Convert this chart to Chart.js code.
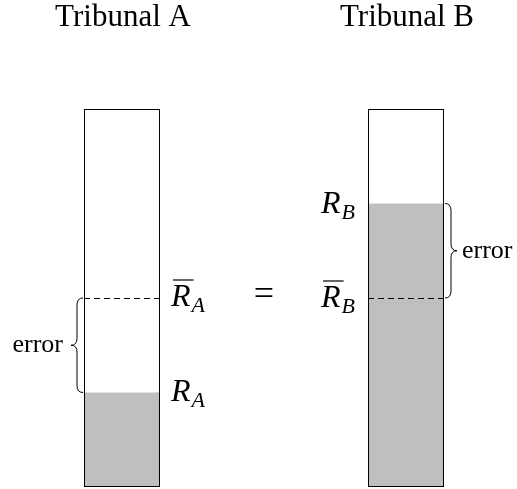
<!DOCTYPE html>
<html>
<head>
<meta charset="utf-8">
<script src="https://cdn.jsdelivr.net/npm/chart.js@4"></script>
<style>
  body { margin: 0; background: #fff; }
  #wrap { width: 517px; height: 489px; }
</style>
</head>
<body>
<div id="wrap"><canvas id="chart"></canvas></div>
<script>
// one slot per tribunal, the middle slot only holds the "=" sign
const categories = ['Tribunal A', '=', 'Tribunal B']
const tribunalLetters = ['A', null, 'B']
const observed = [0.25, null, 0.75]   // R
const expected = [0.5, null, 0.5]     // R bar
const capacity = [1, null, 1]

const serif = '"Liberation Serif", "DejaVu Serif", serif'

function drawBrace(ctx, x, y1, y2, dir, depth) {
  const h = (depth / 2) * dir
  const d = depth * dir
  const ym = (y1 + y2) / 2
  const r = 7
  ctx.beginPath()
  ctx.moveTo(x, y1)
  ctx.quadraticCurveTo(x + h, y1, x + h, y1 + r)
  ctx.lineTo(x + h, ym - r)
  ctx.quadraticCurveTo(x + h, ym, x + d, ym)
  ctx.quadraticCurveTo(x + h, ym, x + h, ym + r)
  ctx.lineTo(x + h, y2 - r)
  ctx.quadraticCurveTo(x + h, y2, x, y2)
  ctx.stroke()
}

// italic R with subscript, optional overline
function drawR(ctx, letter, x, baseline, align, bar) {
  ctx.font = 'italic 32px ' + serif
  const rw = ctx.measureText('R').width
  ctx.font = 'italic 22px ' + serif
  const sw = ctx.measureText(letter).width
  const total = rw + 1 + sw
  const left = align === 'left' ? x : x - total
  ctx.textAlign = 'left'
  ctx.textBaseline = 'alphabetic'
  ctx.font = 'italic 32px ' + serif
  ctx.fillText('R', left, baseline)
  ctx.font = 'italic 22px ' + serif
  ctx.fillText(letter, left + rw + 1, baseline + 6)
  if (bar) {
    ctx.beginPath()
    ctx.lineWidth = 1.2
    ctx.moveTo(left + 2, baseline - 26)
    ctx.lineTo(left + rw + 3, baseline - 26)
    ctx.stroke()
  }
}

const annotations = {
  id: 'annotations',
  afterDatasetsDraw(chart) {
    const { ctx, scales: { x, y } } = chart
    const boxes = chart.getDatasetMeta(1).data
    ctx.save()
    ctx.fillStyle = '#000'
    ctx.strokeStyle = '#000'

    categories.forEach((cat, i) => {
      const cx = x.getPixelForValue(i)
      if (!tribunalLetters[i]) {
        ctx.font = '36px ' + serif
        ctx.textAlign = 'center'
        ctx.textBaseline = 'middle'
        ctx.fillText(cat, cx, y.getPixelForValue(expected[0]) - 2)
        return
      }
      ctx.font = '31px ' + serif
      ctx.textAlign = 'center'
      ctx.textBaseline = 'alphabetic'
      ctx.fillText(cat, cx + 1, 26)

      const { width } = boxes[i].getProps(['width'], true)
      const left = cx - width / 2
      const right = cx + width / 2
      const yExp = y.getPixelForValue(expected[i])
      const yObs = y.getPixelForValue(observed[i])

      // dashed reference level
      ctx.lineWidth = 1
      ctx.setLineDash([6, 4])
      ctx.beginPath()
      ctx.moveTo(left, Math.round(yExp) + 0.5)
      ctx.lineTo(right, Math.round(yExp) + 0.5)
      ctx.stroke()
      ctx.setLineDash([])

      const first = i === 0
      if (first) {
        drawR(ctx, tribunalLetters[i], right + 11, yExp + 8, 'left', true)
        drawR(ctx, tribunalLetters[i], right + 11, yObs + 8, 'left', false)
      } else {
        drawR(ctx, tribunalLetters[i], left - 13, yExp + 9, 'right', true)
        drawR(ctx, tribunalLetters[i], left - 13, yObs + 9, 'right', false)
      }

      // error brace
      ctx.lineWidth = 1
      const top = Math.min(yExp, yObs)
      const bottom = Math.max(yExp, yObs)
      ctx.font = '26px ' + serif
      ctx.textBaseline = 'middle'
      if (first) {
        drawBrace(ctx, left - 1, top, bottom, -1, 12)
        ctx.textAlign = 'right'
        ctx.fillText('error', left - 21, (top + bottom) / 2)
      } else {
        drawBrace(ctx, right + 1, top, bottom, 1, 12)
        ctx.textAlign = 'left'
        ctx.fillText('error', right + 18, (top + bottom) / 2)
      }
    })
    ctx.restore()
  },
}

new Chart(document.getElementById('chart'), {
  type: 'bar',
  data: {
    labels: categories,
    datasets: [
      {
        label: 'observed',
        data: observed,
        backgroundColor: '#bfbfbf',
        borderWidth: 0,
        order: 1,
      },
      {
        label: 'capacity',
        data: capacity,
        backgroundColor: 'rgba(0,0,0,0)',
        borderColor: '#000',
        borderWidth: 1,
        borderSkipped: false,
        order: 0,
      },
    ],
  },
  options: {
    responsive: true,
    maintainAspectRatio: false,
    animation: false,
    datasets: {
      bar: { categoryPercentage: 1, barPercentage: 0.535 },
    },
    layout: {
      padding: { left: 51, right: 40, top: 109, bottom: 2 },
    },
    plugins: {
      legend: { display: false },
      tooltip: { enabled: false },
    },
    scales: {
      x: { display: false, stacked: true },
      y: { display: false, min: 0, max: 1 },
    },
  },
  plugins: [annotations],
})
</script>
</body>
</html>
